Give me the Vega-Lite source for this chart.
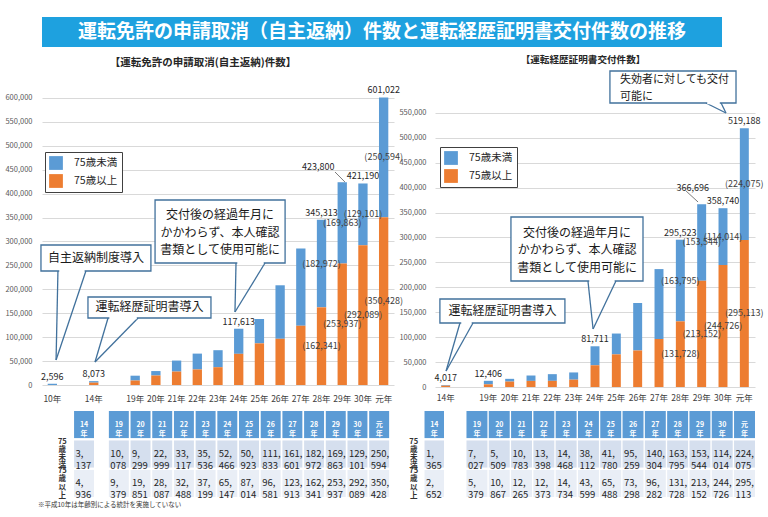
{
 "$schema": "https://vega.github.io/schema/vega-lite/v6.json",
 "background": "white",
 "padding": {"left": 4, "top": 17, "right": 5, "bottom": 3},
 "config": {
  "view": {"stroke": null},
  "font": "Noto Sans CJK JP",
  "axisY": {"grid": true, "gridColor": "#d9d9d9", "gridWidth": 1, "domain": false, "ticks": false, "tickSize": 0, "labelPadding": 10, "labelFontSize": 7.5, "labelColor": "#595959", "title": null},
  "axisX": {"grid": false, "domain": false, "ticks": false, "tickSize": 0, "labelAngle": 0, "labelFontSize": 8.5, "labelColor": "#404040", "labelOverlap": false, "title": null}
 },
 "datasets": {
  "henno": [
   {"year": "10年", "age": "総数", "n": 2596},
   {"year": "14年", "age": "75歳未満", "n": 3137}, {"year": "14年", "age": "75歳以上", "n": 4936},
   {"year": "19年", "age": "75歳未満", "n": 10078}, {"year": "19年", "age": "75歳以上", "n": 9379},
   {"year": "20年", "age": "75歳未満", "n": 9299}, {"year": "20年", "age": "75歳以上", "n": 19851},
   {"year": "21年", "age": "75歳未満", "n": 22999}, {"year": "21年", "age": "75歳以上", "n": 28087},
   {"year": "22年", "age": "75歳未満", "n": 33117}, {"year": "22年", "age": "75歳以上", "n": 32488},
   {"year": "23年", "age": "75歳未満", "n": 35536}, {"year": "23年", "age": "75歳以上", "n": 37199},
   {"year": "24年", "age": "75歳未満", "n": 52466}, {"year": "24年", "age": "75歳以上", "n": 65147},
   {"year": "25年", "age": "75歳未満", "n": 50923}, {"year": "25年", "age": "75歳以上", "n": 87014},
   {"year": "26年", "age": "75歳未満", "n": 111833}, {"year": "26年", "age": "75歳以上", "n": 96581},
   {"year": "27年", "age": "75歳未満", "n": 161601}, {"year": "27年", "age": "75歳以上", "n": 123913},
   {"year": "28年", "age": "75歳未満", "n": 182972}, {"year": "28年", "age": "75歳以上", "n": 162341},
   {"year": "29年", "age": "75歳未満", "n": 169863}, {"year": "29年", "age": "75歳以上", "n": 253937},
   {"year": "30年", "age": "75歳未満", "n": 129101}, {"year": "30年", "age": "75歳以上", "n": 292089},
   {"year": "元年", "age": "75歳未満", "n": 250594}, {"year": "元年", "age": "75歳以上", "n": 350428}
  ],
  "keireki": [
   {"year": "14年", "age": "75歳未満", "n": 1365}, {"year": "14年", "age": "75歳以上", "n": 2652},
   {"year": "19年", "age": "75歳未満", "n": 7027}, {"year": "19年", "age": "75歳以上", "n": 5379},
   {"year": "20年", "age": "75歳未満", "n": 5509}, {"year": "20年", "age": "75歳以上", "n": 10867},
   {"year": "21年", "age": "75歳未満", "n": 10783}, {"year": "21年", "age": "75歳以上", "n": 12265},
   {"year": "22年", "age": "75歳未満", "n": 13398}, {"year": "22年", "age": "75歳以上", "n": 12373},
   {"year": "23年", "age": "75歳未満", "n": 14468}, {"year": "23年", "age": "75歳以上", "n": 14734},
   {"year": "24年", "age": "75歳未満", "n": 38112}, {"year": "24年", "age": "75歳以上", "n": 43599},
   {"year": "25年", "age": "75歳未満", "n": 41780}, {"year": "25年", "age": "75歳以上", "n": 65488},
   {"year": "26年", "age": "75歳未満", "n": 95259}, {"year": "26年", "age": "75歳以上", "n": 73298},
   {"year": "27年", "age": "75歳未満", "n": 140304}, {"year": "27年", "age": "75歳以上", "n": 96282},
   {"year": "28年", "age": "75歳未満", "n": 163795}, {"year": "28年", "age": "75歳以上", "n": 131728},
   {"year": "29年", "age": "75歳未満", "n": 153544}, {"year": "29年", "age": "75歳以上", "n": 213152},
   {"year": "30年", "age": "75歳未満", "n": 114014}, {"year": "30年", "age": "75歳以上", "n": 244726},
   {"year": "元年", "age": "75歳未満", "n": 224075}, {"year": "元年", "age": "75歳以上", "n": 295113}
  ]
 },
 "bounds": "flush",
 "spacing": 27,
 "vconcat": [
  {
   "width": 680, "height": 30,
   "view": {"fill": "#1ea1df", "stroke": null},
   "data": {"values": [{"t": "運転免許の申請取消（自主返納）件数と運転経歴証明書交付件数の推移"}]},
   "mark": {"type": "text", "fontSize": 19, "fontWeight": "bold", "color": "white", "baseline": "middle", "align": "center"},
   "encoding": {"text": {"field": "t", "type": "nominal"}}
  },
  {
   "spacing": 337,
   "bounds": "flush",
   "vconcat": [
    {
     "spacing": 41,
     "bounds": "flush",
     "resolve": {"scale": {"color": "independent"}},
     "hconcat": [
      {
       "width": 352, "height": 311,
       "title": {"text": "【運転免許の申請取消(自主返納)件数】", "fontSize": 10.5, "fontWeight": "bold", "color": "#262626", "anchor": "middle", "dx": -15, "offset": 6},
       "data": {"name": "henno"},
       "resolve": {"scale": {"x": "independent"}},
       "layer": [
        {
         "encoding": {
          "x": {"field": "year", "type": "nominal", "title": null,
                "scale": {"domain": ["10年", "s1", "14年", "s2", "19年", "20年", "21年", "22年", "23年", "24年", "25年", "26年", "27年", "28年", "29年", "30年", "元年"], "paddingInner": 0.55, "paddingOuter": 0.275},
                "axis": {"labelExpr": "indexof(datum.label,'年')>=0 ? datum.label : ''", "labelPadding": 9}}
         },
         "layer": [
          {
           "mark": {"type": "bar"},
           "encoding": {
            "y": {"field": "n", "type": "quantitative", "title": null, "scale": {"domain": [0, 650000], "nice": false},
                  "axis": {"values": [0, 50000, 100000, 150000, 200000, 250000, 300000, 350000, 400000, 450000, 500000, 550000, 600000], "format": ",d"}},
            "color": {"field": "age", "type": "nominal",
                      "scale": {"domain": ["75歳未満", "75歳以上", "総数"], "range": ["#5b9bd5", "#ed7d31", "#5b9bd5"]},
                      "legend": {"orient": "none", "legendX": 3, "legendY": 78, "values": ["75歳未満", "75歳以上"], "title": null, "symbolType": "square", "symbolSize": 190, "symbolStrokeWidth": 0, "labelFontSize": 10.5, "labelColor": "#262626", "strokeColor": "#404040", "fillColor": "white", "padding": 4, "rowPadding": 4, "labelOffset": 11}},
            "order": {"field": "age", "sort": "ascending"}
           }
          },
          {
           "transform": [{"aggregate": [{"op": "sum", "field": "n", "as": "total"}], "groupby": ["year"]}, {"filter": {"field": "year", "oneOf": ["10年", "14年", "24年", "28年", "30年", "元年"]}}],
           "mark": {"type": "text", "baseline": "alphabetic", "dy": -4, "fontSize": 9, "color": "#262626"},
           "encoding": {
            "y": {"field": "total", "type": "quantitative", "title": null, "scale": {"domain": [0, 650000], "nice": false}, "axis": {"values": [0, 50000, 100000, 150000, 200000, 250000, 300000, 350000, 400000, 450000, 500000, 550000, 600000], "format": ",d"}},
            "text": {"field": "total", "type": "quantitative", "format": ","}
           }
          },
          {
           "transform": [{"aggregate": [{"op": "sum", "field": "n", "as": "total"}], "groupby": ["year"]}, {"filter": {"field": "year", "equal": "29年"}}],
           "mark": {"type": "text", "baseline": "alphabetic", "dx": -24, "dy": -12, "fontSize": 9, "color": "#262626"},
           "encoding": {
            "y": {"field": "total", "type": "quantitative", "title": null, "scale": {"domain": [0, 650000], "nice": false}, "axis": {"values": [0, 50000, 100000, 150000, 200000, 250000, 300000, 350000, 400000, 450000, 500000, 550000, 600000], "format": ",d"}},
            "text": {"field": "total", "type": "quantitative", "format": ","}
           }
          },
          {
           "transform": [
            {"filter": {"field": "year", "oneOf": ["28年", "29年", "30年", "元年"]}},
            {"stack": "n", "groupby": ["year"], "sort": [{"field": "age", "order": "ascending"}], "as": ["y0", "y1"]},
            {"calculate": "(datum.y0+datum.y1)/2", "as": "ym"},
            {"calculate": "'(' + format(datum.n, ',') + ')'", "as": "pl"}
           ],
           "mark": {"type": "text", "baseline": "middle", "fontSize": 9, "color": "#404040"},
           "encoding": {
            "y": {"field": "ym", "type": "quantitative", "title": null, "scale": {"domain": [0, 650000], "nice": false}, "axis": {"values": [0, 50000, 100000, 150000, 200000, 250000, 300000, 350000, 400000, 450000, 500000, 550000, 600000], "format": ",d"}},
            "text": {"field": "pl", "type": "nominal"}
           }
          }
         ]
        },
        {
         "data": {"values": [
          {"id": "a1", "t": "自主返納制度導入", "bx1": -0.05, "bx2": 5.26, "by1": 292600, "by2": 238300, "tx": 2.61, "ty": 265400, "xl": 0.77, "xr": 2.12, "xt": 0.68, "yt": 52300},
          {"id": "a2", "t": "運転経歴証明書導入", "bx1": 2.22, "bx2": 8.16, "by1": 183900, "by2": 140000, "tx": 5.19, "ty": 162000, "xl": 3.19, "xr": 4.64, "xt": 2.56, "yt": 48100},
          {"id": "a3", "t": "交付後の経過年月に\nかかわらず、本人確認\n書類として使用可能に", "bx1": 5.46, "bx2": 11.74, "by1": 386700, "by2": 255000, "tx": 8.6, "ty": 355300, "xl": 9.37, "xr": 10.77, "xt": 9.32, "yt": 152600}
         ]},
         "layer": [
          {
           "mark": {"type": "rule", "color": "#41719c", "strokeWidth": 1.3},
           "encoding": {
            "x": {"field": "xl", "type": "quantitative", "scale": {"domain": [0, 17], "nice": false, "zero": false}, "axis": null},
            "x2": {"field": "xt"},
            "y": {"field": "by2", "type": "quantitative", "title": null, "scale": {"domain": [0, 650000], "nice": false}, "axis": {"values": [0, 50000, 100000, 150000, 200000, 250000, 300000, 350000, 400000, 450000, 500000, 550000, 600000], "format": ",d"}},
            "y2": {"field": "yt"}
           }
          },
          {
           "mark": {"type": "rule", "color": "#41719c", "strokeWidth": 1.3},
           "encoding": {
            "x": {"field": "xr", "type": "quantitative", "scale": {"domain": [0, 17], "nice": false, "zero": false}, "axis": null},
            "x2": {"field": "xt"},
            "y": {"field": "by2", "type": "quantitative", "title": null, "scale": {"domain": [0, 650000], "nice": false}, "axis": {"values": [0, 50000, 100000, 150000, 200000, 250000, 300000, 350000, 400000, 450000, 500000, 550000, 600000], "format": ",d"}},
            "y2": {"field": "yt"}
           }
          },
          {
           "mark": {"type": "rect", "fill": "white", "stroke": "#41719c", "strokeWidth": 1.3},
           "encoding": {
            "x": {"field": "bx1", "type": "quantitative", "scale": {"domain": [0, 17], "nice": false, "zero": false}, "axis": null},
            "x2": {"field": "bx2"},
            "y": {"field": "by1", "type": "quantitative", "title": null, "scale": {"domain": [0, 650000], "nice": false}, "axis": {"values": [0, 50000, 100000, 150000, 200000, 250000, 300000, 350000, 400000, 450000, 500000, 550000, 600000], "format": ",d"}},
            "y2": {"field": "by2"}
           }
          },
          {
           "mark": {"type": "rule", "color": "white", "strokeWidth": 2.5, "xOffset": 1.3, "x2Offset": -1.3},
           "encoding": {
            "x": {"field": "xl", "type": "quantitative", "scale": {"domain": [0, 17], "nice": false, "zero": false}, "axis": null},
            "x2": {"field": "xr"},
            "y": {"field": "by2", "type": "quantitative", "title": null, "scale": {"domain": [0, 650000], "nice": false}, "axis": {"values": [0, 50000, 100000, 150000, 200000, 250000, 300000, 350000, 400000, 450000, 500000, 550000, 600000], "format": ",d"}}
           }
          },
          {
           "mark": {"type": "text", "fontSize": 12, "color": "#1a1a1a", "lineBreak": "\n", "lineHeight": 17.5, "baseline": "middle", "align": "center"},
           "encoding": {
            "x": {"field": "tx", "type": "quantitative", "scale": {"domain": [0, 17], "nice": false, "zero": false}, "axis": null},
            "y": {"field": "ty", "type": "quantitative", "title": null, "scale": {"domain": [0, 650000], "nice": false}, "axis": {"values": [0, 50000, 100000, 150000, 200000, 250000, 300000, 350000, 400000, 450000, 500000, 550000, 600000], "format": ",d"}},
            "text": {"field": "t", "type": "nominal"}
           }
          },
          {
           "data": {"values": [{"lx": 14.15, "ly": 445200, "lx2": 14.63, "ly2": 424300}]},
           "mark": {"type": "rule", "color": "#595959", "strokeWidth": 0.8},
           "encoding": {
            "x": {"field": "lx", "type": "quantitative", "scale": {"domain": [0, 17], "nice": false, "zero": false}, "axis": null},
            "x2": {"field": "lx2"},
            "y": {"field": "ly", "type": "quantitative", "title": null, "scale": {"domain": [0, 650000], "nice": false}, "axis": {"values": [0, 50000, 100000, 150000, 200000, 250000, 300000, 350000, 400000, 450000, 500000, 550000, 600000], "format": ",d"}},
            "y2": {"field": "ly2"}
           }
          }
         ]
        }
       ]
      },
      {
       "width": 320, "height": 313,
       "title": {"text": "【運転経歴証明書交付件数】", "fontSize": 9.6, "fontWeight": "bold", "color": "#262626", "anchor": "middle", "dx": -12, "offset": 6},
       "data": {"name": "keireki"},
       "resolve": {"scale": {"x": "independent"}},
       "layer": [
        {
         "encoding": {
          "x": {"field": "year", "type": "nominal", "title": null,
                "scale": {"domain": ["14年", "s2", "19年", "20年", "21年", "22年", "23年", "24年", "25年", "26年", "27年", "28年", "29年", "30年", "元年"], "paddingInner": 0.58, "paddingOuter": 0.29},
                "axis": {"labelExpr": "indexof(datum.label,'年')>=0 ? datum.label : ''", "labelPadding": 6}}
         },
         "layer": [
          {
           "mark": {"type": "bar"},
           "encoding": {
            "y": {"field": "n", "type": "quantitative", "title": null, "scale": {"domain": [0, 628000], "nice": false},
                  "axis": {"values": [0, 50000, 100000, 150000, 200000, 250000, 300000, 350000, 400000, 450000, 500000, 550000], "format": ",d", "labelPadding": 9}},
            "color": {"field": "age", "type": "nominal",
                      "scale": {"domain": ["75歳未満", "75歳以上"], "range": ["#5b9bd5", "#ed7d31"]},
                      "legend": {"orient": "none", "legendX": 5, "legendY": 73, "values": ["75歳未満", "75歳以上"], "title": null, "symbolType": "square", "symbolSize": 190, "symbolStrokeWidth": 0, "labelFontSize": 10.5, "labelColor": "#262626", "strokeColor": "#404040", "fillColor": "white", "padding": 4, "rowPadding": 4, "labelOffset": 11}},
            "order": {"field": "age", "sort": "ascending"}
           }
          },
          {
           "transform": [{"aggregate": [{"op": "sum", "field": "n", "as": "total"}], "groupby": ["year"]}, {"filter": {"field": "year", "oneOf": ["14年", "19年", "24年", "28年", "30年", "元年"]}}],
           "mark": {"type": "text", "baseline": "alphabetic", "dy": -4, "fontSize": 9, "color": "#262626"},
           "encoding": {
            "y": {"field": "total", "type": "quantitative", "title": null, "scale": {"domain": [0, 628000], "nice": false}, "axis": {"values": [0, 50000, 100000, 150000, 200000, 250000, 300000, 350000, 400000, 450000, 500000, 550000], "format": ",d", "labelPadding": 9}},
            "text": {"field": "total", "type": "quantitative", "format": ","}
           }
          },
          {
           "transform": [{"aggregate": [{"op": "sum", "field": "n", "as": "total"}], "groupby": ["year"]}, {"filter": {"field": "year", "equal": "29年"}}],
           "mark": {"type": "text", "baseline": "alphabetic", "dx": -9, "dy": -13, "fontSize": 9, "color": "#262626"},
           "encoding": {
            "y": {"field": "total", "type": "quantitative", "title": null, "scale": {"domain": [0, 628000], "nice": false}, "axis": {"values": [0, 50000, 100000, 150000, 200000, 250000, 300000, 350000, 400000, 450000, 500000, 550000], "format": ",d", "labelPadding": 9}},
            "text": {"field": "total", "type": "quantitative", "format": ","}
           }
          },
          {
           "transform": [
            {"filter": {"field": "year", "oneOf": ["28年", "29年", "30年", "元年"]}},
            {"stack": "n", "groupby": ["year"], "sort": [{"field": "age", "order": "ascending"}], "as": ["y0", "y1"]},
            {"calculate": "(datum.y0+datum.y1)/2", "as": "ym"},
            {"calculate": "'(' + format(datum.n, ',') + ')'", "as": "pl"}
           ],
           "mark": {"type": "text", "baseline": "middle", "fontSize": 9, "color": "#404040"},
           "encoding": {
            "y": {"field": "ym", "type": "quantitative", "title": null, "scale": {"domain": [0, 628000], "nice": false}, "axis": {"values": [0, 50000, 100000, 150000, 200000, 250000, 300000, 350000, 400000, 450000, 500000, 550000], "format": ",d", "labelPadding": 9}},
            "text": {"field": "pl", "type": "nominal"}
           }
          }
         ]
        },
        {
         "data": {"values": [
          {"id": "b1", "t": "失効者に対しても交付\n可能に", "bx1": 8.2, "bx2": 14.11, "by1": 634000, "by2": 569800, "tx": 8.67, "ty": 616000, "xl": 12.7, "xr": 13.41, "xt": 13.64, "yt": 549700},
          {"id": "b2", "t": "交付後の経過年月に\nかかわらず、本人確認\n書類として使用可能に", "bx1": 3.56, "bx2": 9.75, "by1": 341100, "by2": 212700, "tx": 6.66, "ty": 309000, "xl": 7.17, "xr": 8.48, "xt": 7.41, "yt": 116400},
          {"id": "b3", "t": "運転経歴証明書導入", "bx1": 0.23, "bx2": 6.09, "by1": 176600, "by2": 128400, "tx": 3.16, "ty": 152500, "xl": 1.17, "xr": 1.78, "xt": 0.52, "yt": 32100}
         ]},
         "layer": [
          {
           "mark": {"type": "rule", "color": "#41719c", "strokeWidth": 1.3},
           "encoding": {
            "x": {"field": "xl", "type": "quantitative", "scale": {"domain": [0, 15], "nice": false, "zero": false}, "axis": null},
            "x2": {"field": "xt"},
            "y": {"field": "by2", "type": "quantitative", "title": null, "scale": {"domain": [0, 628000], "nice": false}, "axis": {"values": [0, 50000, 100000, 150000, 200000, 250000, 300000, 350000, 400000, 450000, 500000, 550000], "format": ",d", "labelPadding": 9}},
            "y2": {"field": "yt"}
           }
          },
          {
           "mark": {"type": "rule", "color": "#41719c", "strokeWidth": 1.3},
           "encoding": {
            "x": {"field": "xr", "type": "quantitative", "scale": {"domain": [0, 15], "nice": false, "zero": false}, "axis": null},
            "x2": {"field": "xt"},
            "y": {"field": "by2", "type": "quantitative", "title": null, "scale": {"domain": [0, 628000], "nice": false}, "axis": {"values": [0, 50000, 100000, 150000, 200000, 250000, 300000, 350000, 400000, 450000, 500000, 550000], "format": ",d", "labelPadding": 9}},
            "y2": {"field": "yt"}
           }
          },
          {
           "mark": {"type": "rect", "fill": "white", "stroke": "#41719c", "strokeWidth": 1.3},
           "encoding": {
            "x": {"field": "bx1", "type": "quantitative", "scale": {"domain": [0, 15], "nice": false, "zero": false}, "axis": null},
            "x2": {"field": "bx2"},
            "y": {"field": "by1", "type": "quantitative", "title": null, "scale": {"domain": [0, 628000], "nice": false}, "axis": {"values": [0, 50000, 100000, 150000, 200000, 250000, 300000, 350000, 400000, 450000, 500000, 550000], "format": ",d", "labelPadding": 9}},
            "y2": {"field": "by2"}
           }
          },
          {
           "mark": {"type": "rule", "color": "white", "strokeWidth": 2.5, "xOffset": 1.3, "x2Offset": -1.3},
           "encoding": {
            "x": {"field": "xl", "type": "quantitative", "scale": {"domain": [0, 15], "nice": false, "zero": false}, "axis": null},
            "x2": {"field": "xr"},
            "y": {"field": "by2", "type": "quantitative", "title": null, "scale": {"domain": [0, 628000], "nice": false}, "axis": {"values": [0, 50000, 100000, 150000, 200000, 250000, 300000, 350000, 400000, 450000, 500000, 550000], "format": ",d", "labelPadding": 9}}
           }
          },
          {
           "transform": [{"filter": "datum.id !== 'b1'"}],
           "mark": {"type": "text", "fontSize": 12, "color": "#1a1a1a", "lineBreak": "\n", "lineHeight": 17.5, "baseline": "middle", "align": "center"},
           "encoding": {
            "x": {"field": "tx", "type": "quantitative", "scale": {"domain": [0, 15], "nice": false, "zero": false}, "axis": null},
            "y": {"field": "ty", "type": "quantitative", "title": null, "scale": {"domain": [0, 628000], "nice": false}, "axis": {"values": [0, 50000, 100000, 150000, 200000, 250000, 300000, 350000, 400000, 450000, 500000, 550000], "format": ",d", "labelPadding": 9}},
            "text": {"field": "t", "type": "nominal"}
           }
          },
          {
           "transform": [{"filter": "datum.id === 'b1'"}],
           "mark": {"type": "text", "fontSize": 11, "color": "#1a1a1a", "lineBreak": "\n", "lineHeight": 17, "baseline": "middle", "align": "left"},
           "encoding": {
            "x": {"field": "tx", "type": "quantitative", "scale": {"domain": [0, 15], "nice": false, "zero": false}, "axis": null},
            "y": {"field": "ty", "type": "quantitative", "title": null, "scale": {"domain": [0, 628000], "nice": false}, "axis": {"values": [0, 50000, 100000, 150000, 200000, 250000, 300000, 350000, 400000, 450000, 500000, 550000], "format": ",d", "labelPadding": 9}},
            "text": {"field": "t", "type": "nominal"}
           }
          },
          {
           "data": {"values": [{"lx": 11.77, "ly": 393200, "lx2": 12.33, "ly2": 371200}]},
           "mark": {"type": "rule", "color": "#595959", "strokeWidth": 0.8},
           "encoding": {
            "x": {"field": "lx", "type": "quantitative", "scale": {"domain": [0, 15], "nice": false, "zero": false}, "axis": null},
            "x2": {"field": "lx2"},
            "y": {"field": "ly", "type": "quantitative", "title": null, "scale": {"domain": [0, 628000], "nice": false}, "axis": {"values": [0, 50000, 100000, 150000, 200000, 250000, 300000, 350000, 400000, 450000, 500000, 550000], "format": ",d", "labelPadding": 9}},
            "y2": {"field": "ly2"}
           }
          }
         ]
        }
       ]
      }
     ]
    },
    {
     "spacing": 14,
     "bounds": "flush",
     "hconcat": [
      {
       "width": 52, "height": 86,
       "data": {"name": "henno"},
       "transform": [{"filter": {"field": "year", "equal": "14年"}}],
       "title": {"text": "※平成10年は年齢別による統計を実施していない", "orient": "bottom", "anchor": "start", "frame": "group", "baseline": "top", "fontSize": 6.5, "fontWeight": "normal", "color": "#333333", "offset": 0, "dy": 3, "dx": -4},
       "encoding": {
        "x": {"field": "year", "type": "nominal", "scale": {"domain": ["lab", "14年"], "paddingInner": 0.08, "paddingOuter": 0.24, "align": 1}, "axis": null},
        "y": {"field": "age", "type": "nominal", "scale": {"domain": ["h", "75歳未満", "75歳以上"], "paddingInner": 0.08, "paddingOuter": 0}, "axis": null}
       },
       "layer": [
        {
         "transform": [{"aggregate": [{"op": "count", "as": "c"}], "groupby": ["year"]}],
         "mark": {"type": "rect", "color": "#5b9bd5"},
         "encoding": {"y": {"datum": "h", "type": "nominal"}}
        },
        {
         "transform": [{"aggregate": [{"op": "count", "as": "c"}], "groupby": ["year"]}, {"calculate": "replace(datum.year,'年','\\n年')", "as": "hl"}],
         "mark": {"type": "text", "color": "white", "fontWeight": "bold", "fontSize": 7, "lineHeight": 9, "lineBreak": "\n", "baseline": "middle"},
         "encoding": {"y": {"datum": "h", "type": "nominal"}, "text": {"field": "hl", "type": "nominal"}}
        },
        {
         "mark": {"type": "rect"},
         "encoding": {"color": {"condition": {"test": "datum.age === '75歳未満'", "value": "#d5dfee"}, "value": "#e9eef6"}}
        },
        {
         "transform": [{"calculate": "replace(format(datum.n, ','), ',', ',\\n')", "as": "cl"}],
         "mark": {"type": "text", "align": "left", "baseline": "middle", "dx": 1.5, "fontSize": 9.5, "lineHeight": 11.5, "lineBreak": "\n", "color": "#262626"},
         "encoding": {"x": {"field": "year", "type": "nominal", "bandPosition": 0}, "text": {"field": "cl", "type": "nominal"}}
        },
        {
         "transform": [{"aggregate": [{"op": "count", "as": "c"}], "groupby": ["age"]}, {"calculate": "substring(datum.age,0,2) + '\\n' + substring(datum.age,2,3) + '\\n' + substring(datum.age,3,4) + '\\n' + substring(datum.age,4,5)", "as": "rl"}],
         "mark": {"type": "text", "fontWeight": "bold", "fontSize": 7.5, "lineHeight": 8.3, "lineBreak": "\n", "baseline": "middle", "dy": -12.5, "color": "#333333"},
         "encoding": {"x": {"datum": "lab", "type": "nominal"}, "text": {"field": "rl", "type": "nominal"}}
        }
       ]
      },
      {
       "width": 282, "height": 86,
       "data": {"name": "henno"},
       "transform": [{"filter": {"field": "year", "oneOf": ["19年", "20年", "21年", "22年", "23年", "24年", "25年", "26年", "27年", "28年", "29年", "30年", "元年"]}}],
       "encoding": {
        "x": {"field": "year", "type": "nominal", "scale": {"domain": ["19年", "20年", "21年", "22年", "23年", "24年", "25年", "26年", "27年", "28年", "29年", "30年", "元年"], "paddingInner": 0.08, "paddingOuter": 0.04}, "axis": null},
        "y": {"field": "age", "type": "nominal", "scale": {"domain": ["h", "75歳未満", "75歳以上"], "paddingInner": 0.08, "paddingOuter": 0}, "axis": null}
       },
       "layer": [
        {
         "transform": [{"aggregate": [{"op": "count", "as": "c"}], "groupby": ["year"]}],
         "mark": {"type": "rect", "color": "#5b9bd5"},
         "encoding": {"y": {"datum": "h", "type": "nominal"}}
        },
        {
         "transform": [{"aggregate": [{"op": "count", "as": "c"}], "groupby": ["year"]}, {"calculate": "replace(datum.year,'年','\\n年')", "as": "hl"}],
         "mark": {"type": "text", "color": "white", "fontWeight": "bold", "fontSize": 7, "lineHeight": 9, "lineBreak": "\n", "baseline": "middle"},
         "encoding": {"y": {"datum": "h", "type": "nominal"}, "text": {"field": "hl", "type": "nominal"}}
        },
        {
         "mark": {"type": "rect"},
         "encoding": {"color": {"condition": {"test": "datum.age === '75歳未満'", "value": "#d5dfee"}, "value": "#e9eef6"}}
        },
        {
         "transform": [{"calculate": "replace(format(datum.n, ','), ',', ',\\n')", "as": "cl"}],
         "mark": {"type": "text", "align": "left", "baseline": "middle", "dx": 1.5, "fontSize": 9.5, "lineHeight": 11.5, "lineBreak": "\n", "color": "#262626"},
         "encoding": {"x": {"field": "year", "type": "nominal", "bandPosition": 0}, "text": {"field": "cl", "type": "nominal"}}
        }
       ]
      },
      {
       "width": 40, "height": 86,
       "data": {"name": "keireki"},
       "transform": [{"filter": {"field": "year", "equal": "14年"}}],
       "encoding": {
        "x": {"field": "year", "type": "nominal", "scale": {"domain": ["lab", "14年"], "paddingInner": 0.05, "paddingOuter": 0}, "axis": null},
        "y": {"field": "age", "type": "nominal", "scale": {"domain": ["h", "75歳未満", "75歳以上"], "paddingInner": 0.08, "paddingOuter": 0}, "axis": null}
       },
       "layer": [
        {
         "transform": [{"aggregate": [{"op": "count", "as": "c"}], "groupby": ["year"]}],
         "mark": {"type": "rect", "color": "#5b9bd5"},
         "encoding": {"y": {"datum": "h", "type": "nominal"}}
        },
        {
         "transform": [{"aggregate": [{"op": "count", "as": "c"}], "groupby": ["year"]}, {"calculate": "replace(datum.year,'年','\\n年')", "as": "hl"}],
         "mark": {"type": "text", "color": "white", "fontWeight": "bold", "fontSize": 7, "lineHeight": 9, "lineBreak": "\n", "baseline": "middle"},
         "encoding": {"y": {"datum": "h", "type": "nominal"}, "text": {"field": "hl", "type": "nominal"}}
        },
        {
         "mark": {"type": "rect"},
         "encoding": {"color": {"condition": {"test": "datum.age === '75歳未満'", "value": "#d5dfee"}, "value": "#e9eef6"}}
        },
        {
         "transform": [{"calculate": "replace(format(datum.n, ','), ',', ',\\n')", "as": "cl"}],
         "mark": {"type": "text", "align": "left", "baseline": "middle", "dx": 1.5, "fontSize": 9.5, "lineHeight": 11.5, "lineBreak": "\n", "color": "#262626"},
         "encoding": {"x": {"field": "year", "type": "nominal", "bandPosition": 0}, "text": {"field": "cl", "type": "nominal"}}
        },
        {
         "transform": [{"aggregate": [{"op": "count", "as": "c"}], "groupby": ["age"]}, {"calculate": "substring(datum.age,0,2) + '\\n' + substring(datum.age,2,3) + '\\n' + substring(datum.age,3,4) + '\\n' + substring(datum.age,4,5)", "as": "rl"}],
         "mark": {"type": "text", "fontWeight": "bold", "fontSize": 7.5, "lineHeight": 8.3, "lineBreak": "\n", "baseline": "middle", "dy": -12.5, "color": "#333333"},
         "encoding": {"x": {"datum": "lab", "type": "nominal"}, "text": {"field": "rl", "type": "nominal"}}
        }
       ]
      },
      {
       "width": 297, "height": 86,
       "data": {"name": "keireki"},
       "transform": [{"filter": {"field": "year", "oneOf": ["19年", "20年", "21年", "22年", "23年", "24年", "25年", "26年", "27年", "28年", "29年", "30年", "元年"]}}],
       "encoding": {
        "x": {"field": "year", "type": "nominal", "scale": {"domain": ["19年", "20年", "21年", "22年", "23年", "24年", "25年", "26年", "27年", "28年", "29年", "30年", "元年"], "paddingInner": 0.06, "paddingOuter": 0.19, "align": 1}, "axis": null},
        "y": {"field": "age", "type": "nominal", "scale": {"domain": ["h", "75歳未満", "75歳以上"], "paddingInner": 0.08, "paddingOuter": 0}, "axis": null}
       },
       "layer": [
        {
         "transform": [{"aggregate": [{"op": "count", "as": "c"}], "groupby": ["year"]}],
         "mark": {"type": "rect", "color": "#5b9bd5"},
         "encoding": {"y": {"datum": "h", "type": "nominal"}}
        },
        {
         "transform": [{"aggregate": [{"op": "count", "as": "c"}], "groupby": ["year"]}, {"calculate": "replace(datum.year,'年','\\n年')", "as": "hl"}],
         "mark": {"type": "text", "color": "white", "fontWeight": "bold", "fontSize": 7, "lineHeight": 9, "lineBreak": "\n", "baseline": "middle"},
         "encoding": {"y": {"datum": "h", "type": "nominal"}, "text": {"field": "hl", "type": "nominal"}}
        },
        {
         "mark": {"type": "rect"},
         "encoding": {"color": {"condition": {"test": "datum.age === '75歳未満'", "value": "#d5dfee"}, "value": "#e9eef6"}}
        },
        {
         "transform": [{"calculate": "replace(format(datum.n, ','), ',', ',\\n')", "as": "cl"}],
         "mark": {"type": "text", "align": "left", "baseline": "middle", "dx": 1.5, "fontSize": 9.5, "lineHeight": 11.5, "lineBreak": "\n", "color": "#262626"},
         "encoding": {"x": {"field": "year", "type": "nominal", "bandPosition": 0}, "text": {"field": "cl", "type": "nominal"}}
        }
       ]
      }
     ]
    }
   ]
  }
 ]
}
